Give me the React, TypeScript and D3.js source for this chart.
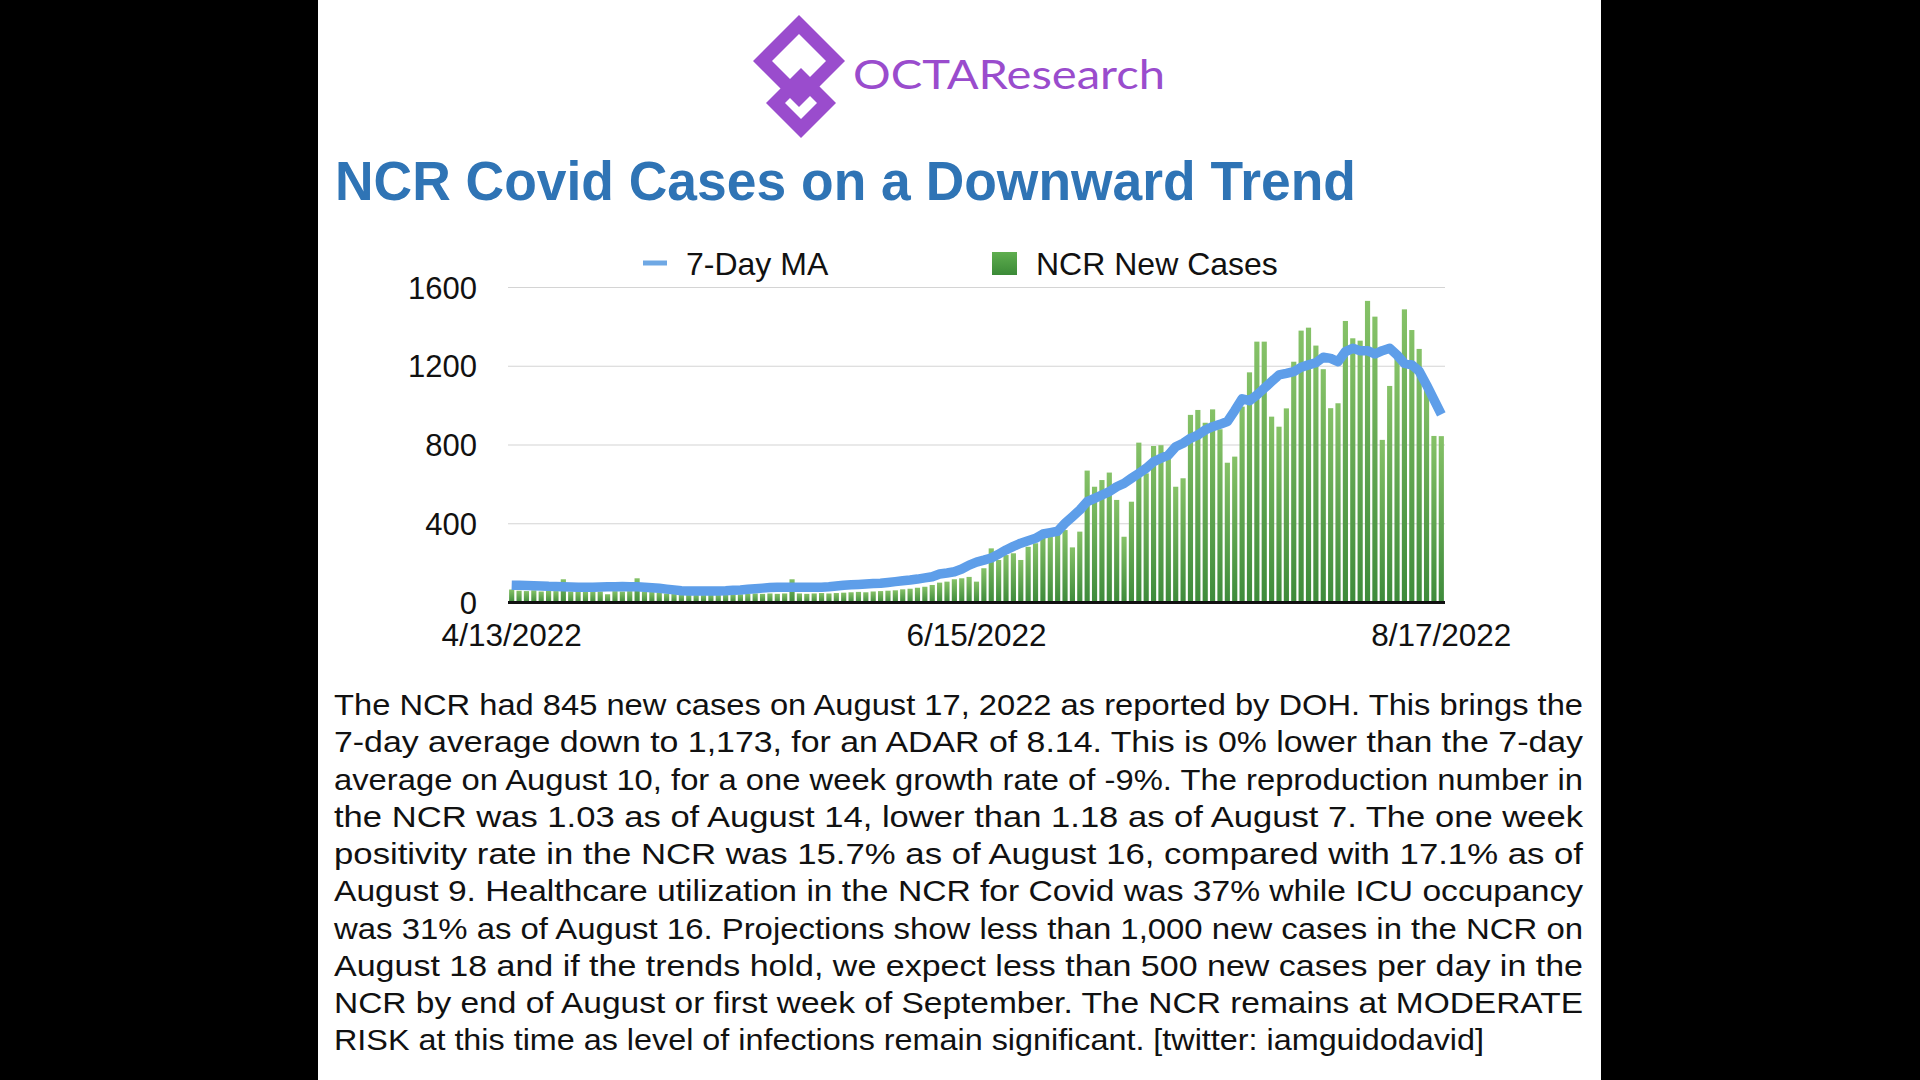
import React from "react";
import * as d3 from "d3";

// ---------- data ----------
const startDate = new Date(2022, 3, 13);
const endDate = new Date(2022, 7, 18);
const dates: Date[] = d3.timeDay.range(startDate, endDate);

const newCases: number[] = [
  66, 60, 58, 62, 56, 60, 58, 118, 56, 58, 54, 58, 56, 42, 58, 56, 58, 123, 56, 54, 52,
  46, 44, 42, 42, 40, 40, 42, 40, 42, 44, 42, 44, 46, 44, 46, 44, 46, 118, 46, 44, 46, 48, 46, 48, 50,
  52, 54, 52, 56, 58, 60, 62, 67, 70, 75, 80, 89, 101, 106, 118, 123, 130, 106,
  174, 275, 216, 241, 250, 216, 283, 301, 368, 334, 360, 368, 280, 360, 670, 588, 622, 660, 521, 334,
  512, 812, 656, 795, 799, 733, 588, 631, 953, 978, 913, 981, 880,
  710, 741, 995, 1169, 1325, 1325, 944, 893, 986, 1223, 1381, 1396, 1305, 1185, 987, 1012, 1430,
  1342, 1330, 1532, 1452, 826, 1100, 1240, 1489, 1384, 1288, 1120, 846, 845,
];

const movingAvg: number[] = [
  88, 87, 86, 85, 84, 82, 81, 80, 79, 78, 77, 78, 79, 80, 80, 81, 80, 80, 78, 75, 72,
  68, 64, 60, 59, 58, 58, 58, 59, 60, 62, 64, 67, 70, 73, 76, 78, 78, 78, 77, 77, 77, 77, 80, 84, 88,
  90, 92, 94, 96, 98, 102, 106, 110, 114, 119, 125, 131, 145, 150, 156, 170, 190, 205,
  215, 226, 246, 267, 285, 301, 314, 326, 348, 355, 362, 402, 436, 470, 512, 529, 546, 563, 588, 605,
  631, 656, 682, 715, 733, 749, 791, 809, 834, 851, 876, 893, 905,
  919, 975, 1035, 1025, 1054, 1088, 1122, 1156, 1164, 1173, 1195, 1207, 1218, 1246, 1240, 1223, 1274,
  1291, 1279, 1279, 1262, 1279, 1291, 1257, 1215, 1207, 1175, 1105, 1030, 955,
];

const yTicks: number[] = [0, 400, 800, 1200, 1600];
const xTickLabels: string[] = ["4/13/2022", "6/15/2022", "8/17/2022"];
const xTickIndex: number[] = [0, 63, 126];

const legendLabels: string[] = ["7-Day MA", "NCR New Cases"];
const titleText = "NCR Covid Cases on a Downward Trend";
const logoText = "OCTAResearch";

const paragraphLines: string[] = [
  "The NCR had 845 new cases on August 17, 2022 as reported by DOH. This brings the",
  "7-day average down to 1,173, for an ADAR of 8.14. This is 0% lower than the 7-day",
  "average on August 10, for a one week growth rate of -9%. The reproduction number in",
  "the NCR was 1.03 as of August 14, lower than 1.18 as of August 7. The one week",
  "positivity rate in the NCR was 15.7% as of August 16, compared with 17.1% as of",
  "August 9. Healthcare utilization in the NCR for Covid was 37% while ICU occupancy",
  "was 31% as of August 16. Projections show less than 1,000 new cases in the NCR on",
  "August 18 and if the trends hold, we expect less than 500 new cases per day in the",
  "NCR by end of August or first week of September. The NCR remains at MODERATE",
  "RISK at this time as level of infections remain significant. [twitter: iamguidodavid]",
];

// ---------- layout ----------
const W = 1920;
const H = 1080;
const FONT = "'Liberation Sans', Arial, Helvetica, sans-serif";

const plotLeft = 508;
const plotRight = 1445;
const yZero = 602.5;
const yTop = 287.5;

function diamondRing(cx: number, cy: number, r: number, t: number) {
  const ri = r - t;
  return (
    `M${cx},${cy - r} L${cx + r},${cy} L${cx},${cy + r} L${cx - r},${cy} Z ` +
    `M${cx},${cy - ri} L${cx + ri},${cy} L${cx},${cy + ri} L${cx - ri},${cy} Z`
  );
}

export default function App() {
  const idx = dates.map((_, i) => i);
  const x = d3.scaleBand<number>().domain(idx).range([plotLeft, plotRight]).paddingInner(0.3).paddingOuter(0.15);
  const y = d3.scaleLinear().domain([0, 1600]).range([yZero, yTop]);
  const cx = (i: number) => (x(i) as number) + x.bandwidth() / 2;

  const line = d3
    .line<number>()
    .x((_, i) => cx(i))
    .y((d) => y(d))
    .curve(d3.curveLinear);

  const purple = "#9a4ccd";
  const paraLeft = 334;
  const paraWidth = 1249;
  const paraTop = 715;
  const paraStep = 37.25;

  return (
    <div style={{ position: "fixed", left: 0, top: 0, width: W, height: H, background: "#000" }}>
      <svg width={W} height={H} style={{ display: "block" }}>
        <defs>
          <linearGradient id="barGrad" x1="0" y1="0" x2="0" y2="1">
            <stop offset="0%" stopColor="#86c268" />
            <stop offset="100%" stopColor="#3e8b3b" />
          </linearGradient>
          <linearGradient id="legGrad" x1="0" y1="0" x2="0" y2="1">
            <stop offset="0%" stopColor="#5fae4f" />
            <stop offset="100%" stopColor="#3b8a37" />
          </linearGradient>
        </defs>
        <rect x={0} y={0} width={W} height={H} fill="#000" />
        <rect x={318} y={0} width={1283} height={H} fill="#fff" />

        {/* logo */}
        <g fill={purple} fillRule="evenodd">
          <path d={diamondRing(799, 61, 46, 19)} />
          <path d={diamondRing(801, 103, 35, 19)} />
        </g>
        <text x={853} y={89} fill={purple} fontFamily="Lato, 'Open Sans', sans-serif" fontSize={41}
          textLength={312} lengthAdjust="spacingAndGlyphs">{logoText}</text>

        {/* title */}
        <text x={335} y={200} fill="#2f74b5" fontFamily={FONT} fontWeight="bold" fontSize={55}
          textLength={1021} lengthAdjust="spacingAndGlyphs">{titleText}</text>

        {/* legend */}
        <line x1={643} x2={667} y1={263} y2={263} stroke="#6fa8e4" strokeWidth={5} />
        <text x={686} y={275} fontFamily={FONT} fontSize={32} fill="#111">{legendLabels[0]}</text>
        <rect x={992} y={252} width={25} height={23} fill="url(#legGrad)" />
        <text x={1036} y={275} fontFamily={FONT} fontSize={32} fill="#111">{legendLabels[1]}</text>

        {/* grid */}
        {yTicks.filter((t) => t > 0).map((t) => (
          <line key={t} x1={plotLeft} x2={plotRight} y1={y(t)} y2={y(t)} stroke="#d4d4d4" strokeWidth={1.2} />
        ))}
        {yTicks.map((t) => (
          <text key={"l" + t} x={477} y={y(t) + 11} textAnchor="end" fontFamily={FONT} fontSize={31} fill="#111">
            {t}
          </text>
        ))}

        {/* bars */}
        {newCases.map((v, i) => (
          <rect key={i} x={x(i)} y={y(v)} width={x.bandwidth()} height={yZero - y(v)} fill="url(#barGrad)" />
        ))}

        {/* axis */}
        <line x1={plotLeft} x2={plotRight} y1={yZero} y2={yZero} stroke="#111" strokeWidth={3} />

        {/* moving average */}
        <path d={line(movingAvg) || ""} fill="none" stroke="#5e9ee9" strokeWidth={9.5}
          strokeLinejoin="round" strokeLinecap="butt" />

        {/* x labels */}
        {xTickLabels.map((l, k) => (
          <text key={l} x={cx(xTickIndex[k])} y={646} textAnchor="middle" fontFamily={FONT} fontSize={31.5} fill="#111">
            {l}
          </text>
        ))}

        {/* paragraph */}
        {paragraphLines.map((l, i) => (
          <text key={i} x={paraLeft} y={paraTop + i * paraStep} fontFamily={FONT} fontSize={30} fill="#111"
            textLength={i === paragraphLines.length - 1 ? 1150 : paraWidth} lengthAdjust="spacingAndGlyphs">
            {l}
          </text>
        ))}
      </svg>
    </div>
  );
}
